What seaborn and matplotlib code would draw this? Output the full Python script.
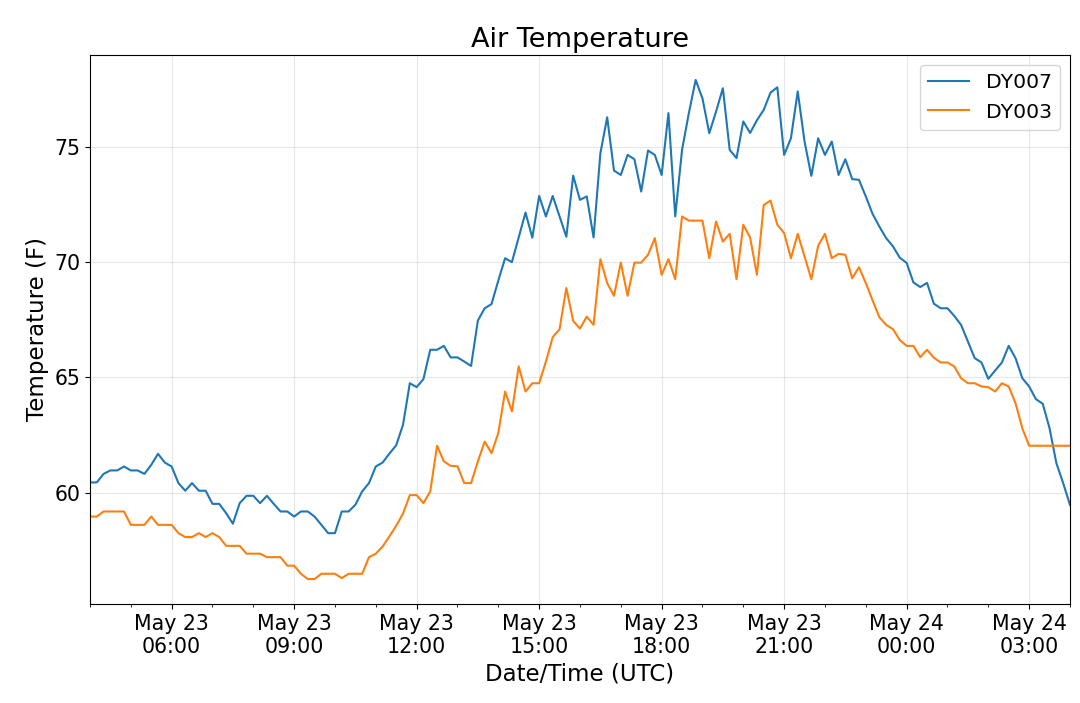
import matplotlib
matplotlib.use("Agg")
import matplotlib.pyplot as plt
import matplotlib.dates as mdates
import pandas as pd
import seaborn as sns

# 10-minute readings, May 23 04:00 -> May 24 04:00 (UTC)
start_time = "2019-05-23 04:00"
interval = "10min"

dy007 = [
    60.45, 60.45, 60.82, 60.97, 60.97, 61.14, 60.97, 60.97, 60.82, 61.21,
    61.69, 61.31, 61.14, 60.42, 60.09, 60.42, 60.09, 60.09, 59.52, 59.52,
    59.12, 58.66, 59.55, 59.87, 59.87, 59.55, 59.87, 59.52, 59.19, 59.19,
    58.97, 59.19, 59.19, 58.97, 58.61, 58.25, 58.25, 59.19, 59.19, 59.48,
    60.06, 60.42, 61.14, 61.31, 61.70, 62.06, 62.95, 64.75, 64.58, 64.93,
    66.20, 66.20, 66.37, 65.87, 65.87, 65.69, 65.50, 67.47, 68.00, 68.18,
    69.20, 70.17, 70.00, 71.08, 72.15, 71.06, 72.87, 71.98, 72.87, 71.98,
    71.10, 73.75, 72.70, 72.85, 71.07, 74.72, 76.28, 73.97, 73.78, 74.65,
    74.46, 73.06, 74.84, 74.65, 73.78, 76.46, 71.98, 74.87, 76.46, 77.90,
    77.10, 75.59, 76.53, 77.54, 74.87, 74.51, 76.10, 75.60, 76.15, 76.60,
    77.35, 77.58, 74.65, 75.37, 77.40, 75.23, 73.74, 75.37, 74.65, 75.23,
    73.78, 74.46, 73.60, 73.57, 72.85, 72.09, 71.54, 71.04, 70.68, 70.19,
    69.97, 69.12, 68.92, 69.10, 68.20, 68.00, 68.00, 67.67, 67.28, 66.56,
    65.84, 65.65, 64.94, 65.30, 65.65, 66.37, 65.84, 64.97, 64.61, 64.06,
    63.86, 62.80, 61.29, 60.42, 59.48,
]

dy003 = [
    58.97, 58.97, 59.19, 59.19, 59.19, 59.19, 58.61, 58.61, 58.61, 58.97,
    58.61, 58.61, 58.61, 58.25, 58.08, 58.08, 58.25, 58.08, 58.25, 58.08,
    57.70, 57.70, 57.70, 57.36, 57.36, 57.36, 57.21, 57.21, 57.21, 56.84,
    56.84, 56.49, 56.26, 56.26, 56.49, 56.49, 56.49, 56.30, 56.49, 56.49,
    56.49, 57.21, 57.36, 57.67, 58.11, 58.57, 59.10, 59.90, 59.90, 59.55,
    60.06, 62.04, 61.36, 61.17, 61.15, 60.42, 60.42, 61.36, 62.22, 61.72,
    62.59, 64.39, 63.53, 65.48, 64.39, 64.75, 64.75, 65.69, 66.75, 67.09,
    68.88, 67.45, 67.12, 67.64, 67.28, 70.13, 69.09, 68.54, 69.98, 68.54,
    69.98, 69.98, 70.32, 71.04, 69.45, 70.13, 69.26, 71.98, 71.80, 71.80,
    71.80, 70.17, 71.76, 70.89, 71.23, 69.26, 71.62, 71.07, 69.45, 72.48,
    72.67, 71.62, 71.26, 70.17, 71.23, 70.24, 69.26, 70.71, 71.23, 70.17,
    70.36, 70.32, 69.30, 69.78, 69.09, 68.34, 67.61, 67.28, 67.09, 66.62,
    66.37, 66.37, 65.88, 66.20, 65.86, 65.65, 65.65, 65.48, 64.97, 64.75,
    64.75, 64.61, 64.58, 64.39, 64.75, 64.61, 63.89, 62.80, 62.04, 62.04,
    62.04, 62.04, 62.04, 62.04, 62.04,
]

times = pd.date_range(start_time, periods=len(dy007), freq=interval)

fig, ax = plt.subplots(figsize=(10.8, 7.03), dpi=100)
fig.subplots_adjust(left=0.0833, right=0.9907, top=0.9218, bottom=0.1408)

sns.lineplot(x=times, y=dy007, label="DY007", color="#1f77b4", linewidth=1.5, ax=ax)
sns.lineplot(x=times, y=dy003, label="DY003", color="#ff7f0e", linewidth=1.5, ax=ax)

ax.set_xlim(times[0], times[-1])
ax.xaxis.set_major_locator(mdates.HourLocator(byhour=range(0, 24, 3)))
ax.xaxis.set_minor_locator(mdates.HourLocator())
ax.xaxis.set_major_formatter(mdates.DateFormatter("%b %d\n%H:%M"))
ax.set_yticks([60, 65, 70, 75])

ax.grid(alpha=0.3)
ax.tick_params(labelsize=14.8)
ax.set_xlabel("Date/Time (UTC)", fontsize=16.5)
ax.set_ylabel("Temperature (F)", fontsize=16.5)
ax.set_title("Air Temperature", fontsize=19.5)
ax.legend(loc="upper right", fontsize=14.7)

fig.savefig("out.png", dpi=100)
